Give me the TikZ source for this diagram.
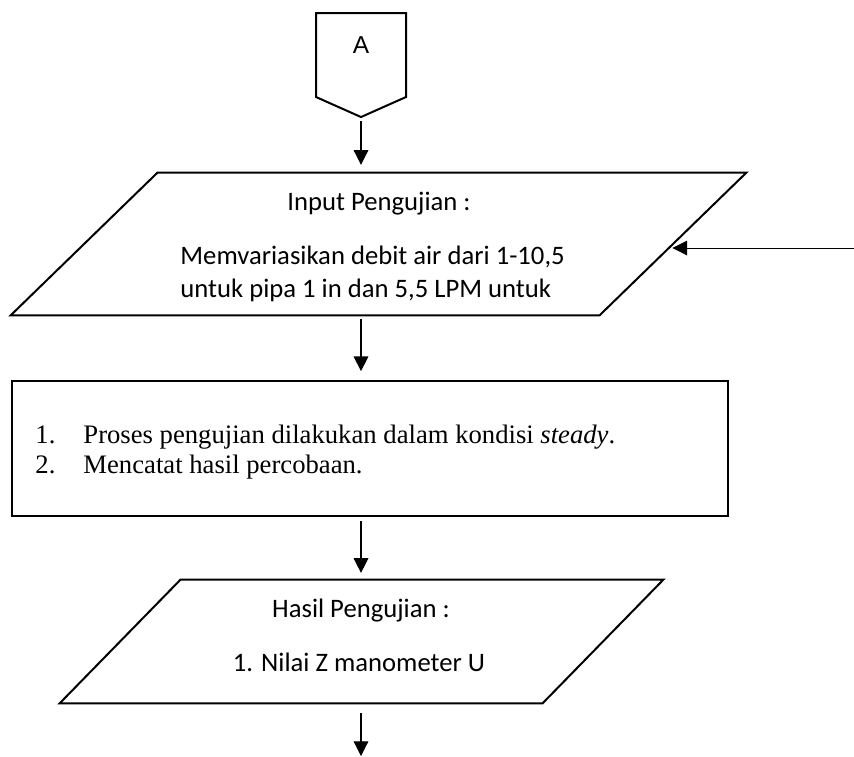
\documentclass[tikz,border=0pt]{standalone}
\usepackage{fontspec}
\setmainfont{Liberation Serif}
\newfontfamily\calibri{Carlito}
\newfontfamily\arialfont{Liberation Sans}
\usetikzlibrary{positioning}
\usetikzlibrary{shapes.symbols, arrows.meta}

\begin{document}
\begin{tikzpicture}[x=0.45pt,y=-0.45pt,
  box/.style={draw,line width=0.9pt,inner sep=0pt},
  frame/.style={draw=none,inner sep=0pt,rectangle},
  arr/.style={line width=0.5pt,-{Triangle[length=6.6pt,width=6.6pt]}},
  calib/.style={font=\calibri\fontsize{12}{14.6}\selectfont,inner sep=0pt},
  serif/.style={font=\fontsize{12}{13.5}\selectfont,inner sep=0pt}]
\useasboundingbox (0,0) rectangle (854,756);

\node[box,signal,signal to=south,signal from=nowhere,signal pointer angle=132,minimum width=40.5pt,minimum height=37.8pt] (A) at (361,55) {};
\node[font=\arialfont\fontsize{11}{13}\selectfont,inner sep=0pt,anchor=base] (Alabel) at (361,53) {A};

% input parallelogram
\node[frame,minimum width=330.75pt,minimum height=63.9pt] (in) at (378.5,244) {};
\draw[line width=0.9pt] ([xshift=66.15pt]in.north west) -- (in.north east) -- ([xshift=-66.15pt]in.south east) -- (in.south west) -- cycle;
\node[calib,anchor=base] (inTitle) at (379,210) {Input Pengujian :};
\node[calib,anchor=base west] (inLine1) at (180,264) {Memvariasikan debit air dari 1-10,5};
\node[calib,anchor=base west] (inLine2) at (180,297) {untuk pipa 1 in dan 5,5 LPM untuk};

\node[box,rectangle,minimum width=322.2pt,minimum height=60.75pt] (proc) at (370,448.5) {};
\node[serif,anchor=base west] (num1) at (35,443) {1.};
\node[serif,anchor=base west] (step1) at (83,443) {Proses pengujian dilakukan dalam kondisi \textit{steady}.};
\node[serif,anchor=base west] (num2) at (35,473) {2.};
\node[serif,anchor=base west] (step2) at (83,473) {Mencatat hasil percobaan.};

% output parallelogram
\node[frame,minimum width=271.35pt,minimum height=55.35pt] (out) at (361.5,641.5) {};
\draw[line width=0.9pt] ([xshift=54.45pt]out.north west) -- (out.north east) -- ([xshift=-54.45pt]out.south east) -- (out.south west) -- cycle;
\node[calib,anchor=base] (outTitle) at (361,617) {Hasil Pengujian :};
\node[calib,anchor=base] (outLine) at (359,671) {1. Nilai Z manometer U};

% connectors
\draw[arr,shorten <=1.5pt,shorten >=3.5pt] (A.south) -- (A.south |- in.north);
\draw[arr,shorten <=1.5pt,shorten >=4pt] (A.south |- in.south) -- (A.south |- proc.north);
\draw[arr,shorten <=1.8pt,shorten >=3pt] (A.south |- proc.south) -- (A.south |- out.north);
\coordinate (fin) at (361,756);
\draw[arr,shorten <=4.5pt] (A.south |- out.south) -- (fin);
\coordinate (back) at (854,248);
\coordinate (inEdge) at (668,248);
\draw[arr,line width=0.4pt,shorten >=2pt] (back) -- (inEdge);

\end{tikzpicture}
\end{document}
